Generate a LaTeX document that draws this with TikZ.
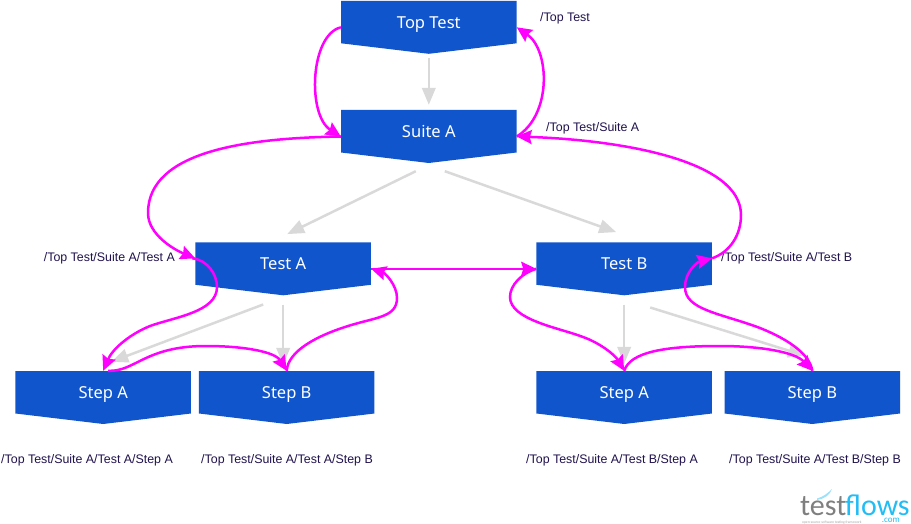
\documentclass[tikz,border=0pt]{standalone}
\usepackage{fontspec}
\setmainfont{Liberation Sans}
\newfontfamily\boxfont{Noto Sans}
\newfontfamily\logofont{Carlito}
\usetikzlibrary{arrows.meta,calc}
\definecolor{flagblue}{HTML}{1155CC}
\definecolor{hotpink}{HTML}{FF00FF}
\definecolor{softgrey}{HTML}{D9D9D9}
\definecolor{pathink}{HTML}{20124D}
\definecolor{logocyan}{HTML}{22BDF5}
\definecolor{logogrey}{HTML}{7F7F7F}
\tikzset{
  flagbox/.style={inner sep=0pt,minimum width=175.5pt,minimum height=53pt,text=white,
    font=\boxfont\bfseries\fontsize{16.5}{18}\selectfont,
    path picture={\fill[flagblue] (path picture bounding box.north west)
      -- (path picture bounding box.north east)
      -- ([yshift=10.5pt]path picture bounding box.south east)
      -- (path picture bounding box.south)
      -- ([yshift=10.5pt]path picture bounding box.south west) -- cycle;}},
  pathlabel/.style={inner sep=0pt,text=pathink,font=\fontsize{12.4}{14}\selectfont},
  greyflow/.style={draw=softgrey,line width=2.5pt,-{Triangle[length=17pt,width=13.5pt]}},
  pinkflow/.style={draw=hotpink,line width=2.5pt,-{Stealth[length=15pt,width=14pt,inset=2pt]}},
}
\newcommand{\flagtext}[1]{\raisebox{-1pt}[0pt][0pt]{#1}}
\begin{document}
\begin{tikzpicture}[x=1pt,y=-1pt]
\useasboundingbox[fill=white] (0,0) rectangle (911,524);
% boxes
\node[flagbox] (top)   at (428.8,27.3)  {\flagtext{Top Test}};
\node[flagbox] (suite) at (428.8,136.5) {\flagtext{Suite A}};
\node[flagbox] (testa) at (283.2,268.8) {\flagtext{Test A}};
\node[flagbox] (testb) at (624.2,268.8) {\flagtext{Test B}};
\node[flagbox] (stepaa) at (103.2,397.5) {\flagtext{Step A}};
\node[flagbox] (stepab) at (286.7,397.5) {\flagtext{Step B}};
\node[flagbox] (stepba) at (624.2,397.5) {\flagtext{Step A}};
\node[flagbox] (stepbb) at (812.3,397.5) {\flagtext{Step B}};
% labels
\node[pathlabel,anchor=west] (l1) at (540,18)  {/Top Test};
\node[pathlabel,anchor=west] (l2) at (546,128) {/Top Test/Suite A};
\node[pathlabel,anchor=east] (l3) at (175,258) {/Top Test/Suite A/Test A};
\node[pathlabel,anchor=west] (l4) at (721,258) {/Top Test/Suite A/Test B};
\node[pathlabel,anchor=west] (l5) at (1,460)   {/Top Test/Suite A/Test A/Step A};
\node[pathlabel,anchor=west] (l6) at (201,460) {/Top Test/Suite A/Test A/Step B};
\node[pathlabel,anchor=west] (l7) at (526,460) {/Top Test/Suite A/Test B/Step A};
\node[pathlabel,anchor=west] (l8) at (729,460) {/Top Test/Suite A/Test B/Step B};
% grey flows
\draw[greyflow,shorten <=4.5pt,shorten >=5pt] (top.south) -- (suite.north);
\draw[greyflow] ($(suite.south)+(-13,8)$) -- ($(testa.north)+(4,-8)$);
\draw[greyflow] ($(suite.south)+(16,8)$) -- ($(testb.north)+(-8,-10)$);
\draw[greyflow] ($(testa.south)+(-20,9)$) -- ($(stepaa.north)+(8,-9)$);
\draw[greyflow,shorten <=9pt,shorten >=6pt] (testa.south) -- (testa.south |- stepab.north);
\draw[greyflow,shorten <=9pt,shorten >=7pt] (testb.south) -- (stepba.north);
\draw[greyflow] ($(testb.south)+(26,12)$) -- ($(stepbb.north)+(-7,-15)$);
% pink flows
\draw[pinkflow] ($(top.west)$) .. controls (310,35) and (307,115) .. (suite.west);
\draw[pinkflow] (suite.east) .. controls (552,115) and (550,50) .. (top.east);
\draw[pinkflow] (suite.west) .. controls (250,138) and (148,150) .. (148,213)
  .. controls (148,235) and (175,250) .. ($(testa.west)+(0,-10.5)$);
\draw[pinkflow] ($(testa.west)+(-3,-10.5)$) .. controls (208,260) and (217,275) .. (217,287)
  .. controls (217,312) and (175,317) .. (150,326)
  .. controls (128,335) and (112,350) .. (stepaa.north);
\draw[pinkflow] ($(stepaa.north)+(5,0)$) .. controls (135,372) and (145,346) .. (206,346)
  .. controls (245,346) and (275,352) .. (stepab.north);
\draw[pinkflow] (stepab.north) .. controls (288,350) and (320,335) .. (345,327)
  .. controls (375,317) and (397,318) .. (397,298)
  .. controls (397,285) and (385,273) .. (testa.east);
\draw[pinkflow] (testa.east) -- (testb.west);
\draw[pinkflow] (testb.west) .. controls (522,273) and (510,285) .. (510,297)
  .. controls (510,320) and (560,328) .. (583,337)
  .. controls (600,343) and (615,355) .. (stepba.north);
\draw[pinkflow] (stepba.north) .. controls (630,352) and (665,346) .. (720,346)
  .. controls (760,346) and (795,352) .. (stepbb.north);
\draw[pinkflow] (stepbb.north) .. controls (810,355) and (790,340) .. (760,328)
  .. controls (720,313) and (685,310) .. (685,287)
  .. controls (685,272) and (697,262) .. ($(testb.east)+(0,-10.5)$);
\draw[pinkflow] ($(testb.east)+(0,-10.5)$) .. controls (730,252) and (741,235) .. (741,215)
  .. controls (741,160) and (620,140) .. (suite.east);
% logo
\fill[logocyan!45] (817,498.5) .. controls (823,497) and (828,493) .. (832,489) .. controls (830,495) and (824,499) .. (817,500) -- cycle;
\node[anchor=base west,inner sep=0pt,text=logogrey,font=\logofont\fontsize{30}{30}\selectfont] (logot) at (800,515) {test};
\node[anchor=base west,inner sep=0pt,text=logocyan,font=\logofont\fontsize{30}{30}\selectfont] (logof) at (845,515) {flows};
\node[anchor=base east,inner sep=0pt,text=logocyan,font=\logofont\fontsize{9}{9}\selectfont] (logoc) at (900,522) {.com};
\node[anchor=base west,inner sep=0pt,text=logogrey!70,font=\logofont\fontsize{3.6}{4}\selectfont] (logos) at (802,523) {open-source software testing framework};
\end{tikzpicture}
\end{document}
